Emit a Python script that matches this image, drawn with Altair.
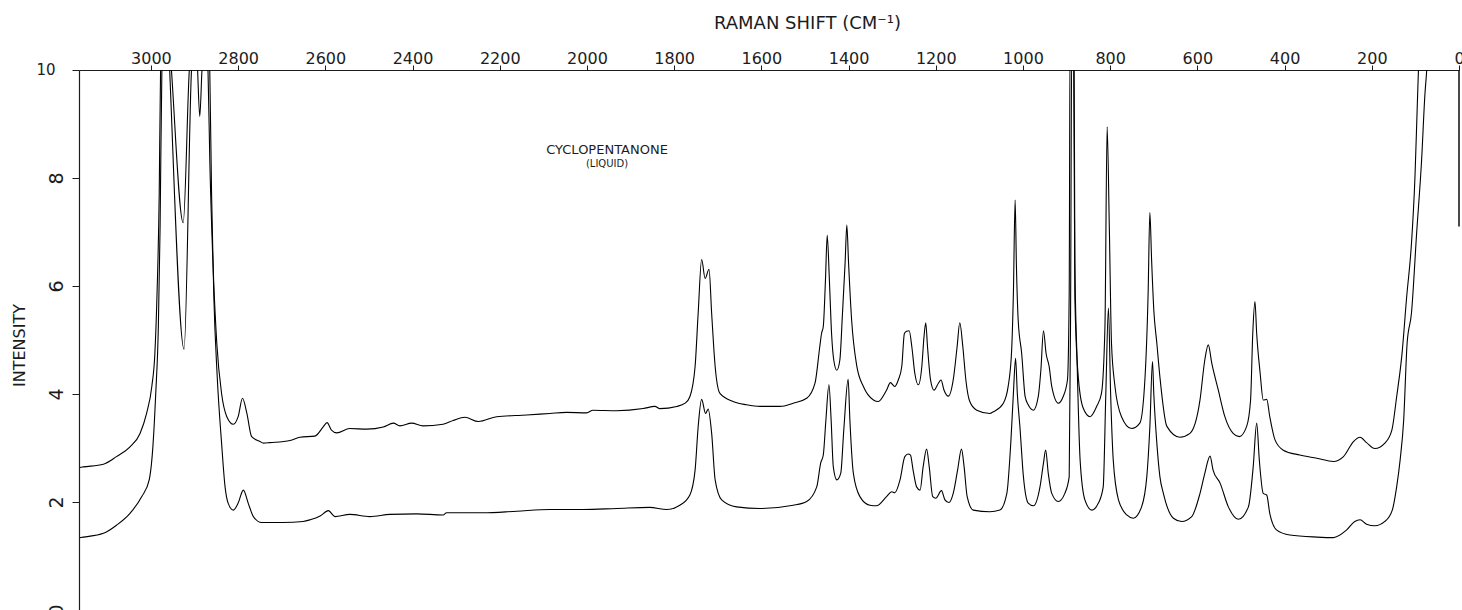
import altair as alt
import pandas as pd

# Raman spectrum of liquid cyclopentanone, recorded twice at two gain settings.
# Shift in cm-1, intensity in chart units; values above 10 run off the top of the chart.
upper_shift = [
    3163, 3155, 3109, 3079, 3048, 3025, 3010, 2998, 2991, 2986, 2981, 2978, 2972, 2958, 2953,
    2926, 2912, 2906, 2874, 2869, 2865, 2858, 2849, 2838, 2826, 2811, 2800, 2790, 2780, 2769,
    2750, 2742, 2727, 2681, 2658, 2624, 2605, 2596, 2586, 2574, 2544, 2505, 2467, 2444, 2429,
    2402, 2376, 2330, 2307, 2280, 2249, 2207, 2138, 2085, 2047, 2001, 1986, 1932, 1871, 1844,
    1833, 1794, 1775, 1764, 1752, 1745, 1737, 1729, 1720, 1714, 1706, 1695, 1665, 1634, 1603,
    1557, 1527, 1496, 1477, 1466, 1462, 1458, 1453, 1449, 1444, 1439, 1434, 1427, 1420, 1414,
    1408, 1404, 1400, 1393, 1381, 1366, 1343, 1332, 1313, 1304, 1294, 1286, 1278, 1272, 1267,
    1261, 1255, 1248, 1240, 1232, 1227, 1223, 1219, 1212, 1204, 1194, 1188, 1181, 1171, 1160,
    1151, 1145, 1138, 1131, 1122, 1106, 1076, 1068, 1045, 1034, 1026, 1022, 1018, 1015, 1011,
    1003, 995, 988, 976, 965, 959, 953, 947, 940, 934, 919, 908, 898, 894, 892,
    884, 881, 874, 862, 846, 831, 820, 812, 807, 802, 797, 789, 774, 751, 732,
    720, 713, 709, 705, 700, 693, 686, 670, 640, 617, 594, 583, 575, 567, 552,
    537, 518, 504, 487, 478, 473, 468, 464, 456, 449, 441, 434, 422, 403, 365,
    326, 288, 265, 242, 227, 212, 193, 170, 154, 143, 131, 120, 109, 101, 96,
    93, 88, 0,
]
upper_intensity = [
    2.64, 2.65, 2.70, 2.84, 3.02, 3.27, 3.64, 4.14, 4.75, 5.86, 7.72, 9.94, 10.6, 10.6, 10.0,
    7.17, 10.0, 10.6, 10.6, 9.94, 8.33, 6.48, 4.94, 4.01, 3.58, 3.44, 3.58, 3.92, 3.64, 3.21,
    3.12, 3.09, 3.10, 3.14, 3.20, 3.22, 3.39, 3.47, 3.33, 3.28, 3.36, 3.35, 3.39, 3.46, 3.41,
    3.46, 3.41, 3.44, 3.51, 3.57, 3.49, 3.58, 3.61, 3.64, 3.66, 3.65, 3.70, 3.69, 3.73, 3.77,
    3.73, 3.77, 3.83, 3.95, 4.51, 5.49, 6.49, 6.14, 6.31, 5.49, 4.51, 4.01, 3.86, 3.80, 3.77,
    3.77, 3.83, 3.92, 4.20, 4.88, 5.12, 5.25, 6.11, 6.94, 6.11, 5.12, 4.63, 4.44, 4.63, 5.49,
    6.42, 7.13, 6.42, 5.37, 4.51, 4.14, 3.89, 3.86, 4.07, 4.21, 4.14, 4.26, 4.51, 5.12, 5.16,
    5.17, 4.88, 4.38, 4.17, 4.51, 5.06, 5.32, 4.88, 4.26, 4.07, 4.20, 4.26, 4.07, 3.96, 4.26,
    4.88, 5.32, 4.88, 4.26, 3.86, 3.70, 3.64, 3.67, 3.83, 4.14, 4.81, 5.86, 7.59, 6.36, 5.37,
    4.75, 3.95, 3.80, 3.70, 3.95, 4.44, 5.17, 4.75, 4.51, 4.14, 3.83, 3.95, 4.26, 5.86, 10.6,
    10.6, 5.80, 4.40, 3.74, 3.58, 3.77, 4.01, 5.25, 8.95, 7.10, 4.94, 4.14, 3.58, 3.36, 3.46,
    4.32, 5.86, 7.36, 6.48, 5.56, 4.94, 4.32, 3.40, 3.20, 3.27, 3.89, 4.63, 4.91, 4.57, 4.07,
    3.58, 3.27, 3.21, 3.40, 3.89, 5.12, 5.71, 5.12, 4.38, 3.89, 3.90, 3.58, 3.15, 2.96, 2.87,
    2.81, 2.75, 2.84, 3.12, 3.20, 3.10, 2.99, 3.09, 3.33, 3.95, 4.72, 5.80, 6.79, 8.02, 9.26,
    10.0, 10.6, 10.6,
]

lower_shift = [
    3163, 3155, 3109, 3079, 3048, 3021, 3004, 2995, 2989, 2983, 2979, 2975, 2970, 2960, 2957,
    2924, 2907, 2902, 2896, 2893, 2888, 2883, 2878, 2869, 2865, 2861, 2856, 2848, 2838, 2830,
    2823, 2811, 2800, 2788, 2777, 2765, 2746, 2712, 2697, 2651, 2635, 2612, 2593, 2578, 2544,
    2498, 2452, 2391, 2330, 2322, 2238, 2161, 2085, 2009, 1932, 1856, 1817, 1787, 1764, 1752,
    1745, 1737, 1728, 1722, 1714, 1706, 1691, 1657, 1603, 1527, 1496, 1473, 1464, 1458, 1452,
    1445, 1440, 1435, 1427, 1418, 1411, 1401, 1397, 1389, 1374, 1351, 1336, 1313, 1301, 1294,
    1282, 1271, 1263, 1258, 1252, 1244, 1236, 1229, 1221, 1215, 1207, 1200, 1187, 1179, 1170,
    1160, 1150, 1141, 1135, 1128, 1114, 1076, 1053, 1037, 1028, 1022, 1017, 1013, 1007, 999,
    988, 976, 961, 953, 948, 942, 934, 919, 904, 894, 891, 888, 883, 881, 876,
    869, 858, 842, 827, 816, 810, 804, 799, 793, 781, 762, 747, 728, 716, 709,
    703, 700, 693, 686, 678, 655, 636, 613, 594, 583, 571, 564, 548, 529, 506,
    483, 472, 464, 458, 449, 441, 434, 418, 388, 326, 288, 258, 239, 227, 212,
    193, 170, 153, 143, 135, 127, 119, 109, 97, 86, 78, 74, 70, 0,
]
lower_intensity = [
    1.34, 1.35, 1.42, 1.57, 1.79, 2.10, 2.41, 3.09, 4.01, 5.25, 7.10, 9.94, 10.6, 10.6, 10.0,
    4.83, 10.0, 10.6, 10.6, 10.0, 9.14, 10.0, 10.6, 10.6, 9.94, 7.72, 5.86, 4.32, 3.09, 2.28,
    1.98, 1.85, 1.98, 2.22, 1.98, 1.73, 1.62, 1.62, 1.62, 1.64, 1.67, 1.74, 1.84, 1.73, 1.77,
    1.73, 1.77, 1.78, 1.76, 1.80, 1.80, 1.83, 1.86, 1.86, 1.88, 1.90, 1.86, 1.94, 2.13, 2.59,
    3.39, 3.90, 3.64, 3.72, 3.27, 2.41, 2.04, 1.91, 1.88, 1.94, 2.01, 2.28, 2.72, 2.87, 3.52,
    4.17, 3.52, 2.65, 2.41, 2.53, 3.33, 4.27, 3.52, 2.53, 2.10, 1.94, 1.93, 2.10, 2.19, 2.17,
    2.41, 2.84, 2.89, 2.87, 2.59, 2.28, 2.22, 2.65, 2.98, 2.65, 2.10, 2.07, 2.21, 2.04, 1.99,
    2.16, 2.59, 2.98, 2.65, 2.10, 1.85, 1.82, 1.85, 2.16, 3.09, 4.01, 4.66, 4.01, 3.39, 2.47,
    1.98, 1.93, 2.28, 2.72, 2.96, 2.53, 2.16, 2.01, 2.16, 2.47, 5.25, 10.6, 10.6, 6.48, 4.63,
    2.78, 2.04, 1.85, 1.98, 2.28, 4.01, 5.59, 4.01, 2.78, 2.04, 1.76, 1.70, 1.91, 2.47, 3.39,
    4.60, 4.01, 3.09, 2.47, 2.16, 1.70, 1.64, 1.73, 2.16, 2.53, 2.85, 2.59, 2.35, 1.91, 1.68,
    1.91, 2.65, 3.46, 2.78, 2.16, 2.13, 1.79, 1.48, 1.39, 1.35, 1.34, 1.48, 1.64, 1.67, 1.59,
    1.56, 1.64, 1.85, 2.28, 2.78, 3.50, 4.94, 5.50, 7.00, 8.30, 9.57, 10.0, 10.6, 10.6,
]

shift_ticks = [3000, 2800, 2600, 2400, 2200, 2000, 1800, 1600, 1400, 1200, 1000, 800, 600, 400, 200, 0]
intensity_ticks = [0, 2, 4, 6, 8, 10]

# Compound label placed inside the plot
label_shift = [1954, 1954]
label_intensity = [8.52, 8.26]
label_text = ["CYCLOPENTANONE", "(LIQUID)"]

# Short right-hand frame segment at 0 cm-1
frame_shift = [0]
frame_top = [10]
frame_bottom = [7.1]

FONT = "DejaVu Sans"
INK = "#1c1c1c"

traces = pd.concat([
    pd.DataFrame({"shift": upper_shift, "intensity": upper_intensity, "trace": "upper"}),
    pd.DataFrame({"shift": lower_shift, "intensity": lower_intensity, "trace": "lower"}),
], ignore_index=True)

x_scale = alt.Scale(domain=[0, 3165], reverse=True, nice=False, zero=False)
y_scale = alt.Scale(domain=[0, 10], nice=False, zero=False)

x_axis = alt.Axis(
    orient="top", values=shift_ticks, format="d", grid=False,
    domainColor=INK, domainWidth=1.2, tickColor=INK, tickWidth=1, tickSize=5,
    labelFont=FONT, labelFontSize=16, labelColor=INK, labelPadding=2,
    labelBaseline="alphabetic", labelFlush=False, labelOverlap=False, labelBound=False,
    title="RAMAN SHIFT (CM⁻¹)", titleFont=FONT, titleFontSize=18, titleFontWeight="normal",
    titleColor=INK, titleX=728, titleY=-42, titleAlign="center", titleBaseline="alphabetic",
)
y_axis = alt.Axis(
    orient="left", values=intensity_ticks, grid=False,
    labelExpr="datum.value == 10 ? '' : datum.label",
    domainColor=INK, domainWidth=1.2, tickColor=INK, tickWidth=1, tickSize=7,
    labelFont=FONT, labelFontSize=19, labelColor=INK, labelAngle=270,
    labelAlign="center", labelBaseline="alphabetic", labelPadding=10,
    labelFlush=False, labelOverlap=False, labelBound=False,
    title="INTENSITY", titleFont=FONT, titleFontSize=16, titleFontWeight="normal",
    titleColor=INK, titleAngle=270, titleX=-60, titleY=275,
    titleAlign="center", titleBaseline="middle",
)

# Smooth trace through the sampled points; the part above 10 is clipped at the top edge
lines = alt.Chart(traces).mark_line(
    color="black", strokeWidth=1.1, clip=True, interpolate="monotone"
).encode(
    x=alt.X("shift:Q", scale=x_scale, axis=x_axis),
    y=alt.Y("intensity:Q", scale=y_scale, axis=y_axis),
    detail="trace:N",
)

frame = alt.Chart(pd.DataFrame({"shift": frame_shift, "intensity": frame_top, "bottom": frame_bottom})).mark_rule(
    color=INK, strokeWidth=1.6
).encode(
    x=alt.X("shift:Q", scale=x_scale),
    y=alt.Y("intensity:Q", scale=y_scale),
    y2="bottom:Q",
)

labels = pd.DataFrame({"shift": label_shift, "intensity": label_intensity, "text": label_text})
name = alt.Chart(labels.iloc[[0]]).mark_text(
    font=FONT, fontSize=13, color=INK, align="center", baseline="middle"
).encode(
    x=alt.X("shift:Q", scale=x_scale),
    y=alt.Y("intensity:Q", scale=y_scale),
    text="text:N",
)
state = alt.Chart(labels.iloc[[1]]).mark_text(
    font=FONT, fontSize=10, color=INK, align="center", baseline="middle"
).encode(
    x=alt.X("shift:Q", scale=x_scale),
    y=alt.Y("intensity:Q", scale=y_scale),
    text="text:N",
)

# Top tick label of the intensity axis is drawn upright
top_label = alt.Chart(pd.DataFrame({"intensity": [10], "text": ["10"]})).mark_text(
    font=FONT, fontSize=15, color=INK, align="center", baseline="middle"
).encode(
    x=alt.value(-33),
    y=alt.Y("intensity:Q", scale=y_scale),
    text="text:N",
)

chart = alt.layer(lines, frame, name, state, top_label).properties(
    width=1380,
    height=540,
    autosize=alt.AutoSizeParams(type="none"),
    padding={"left": 79, "top": 70, "right": 3, "bottom": 0},
    background="white",
).configure_view(strokeWidth=0)

chart.save("out.html", embed_options={"renderer": "svg", "actions": False})
